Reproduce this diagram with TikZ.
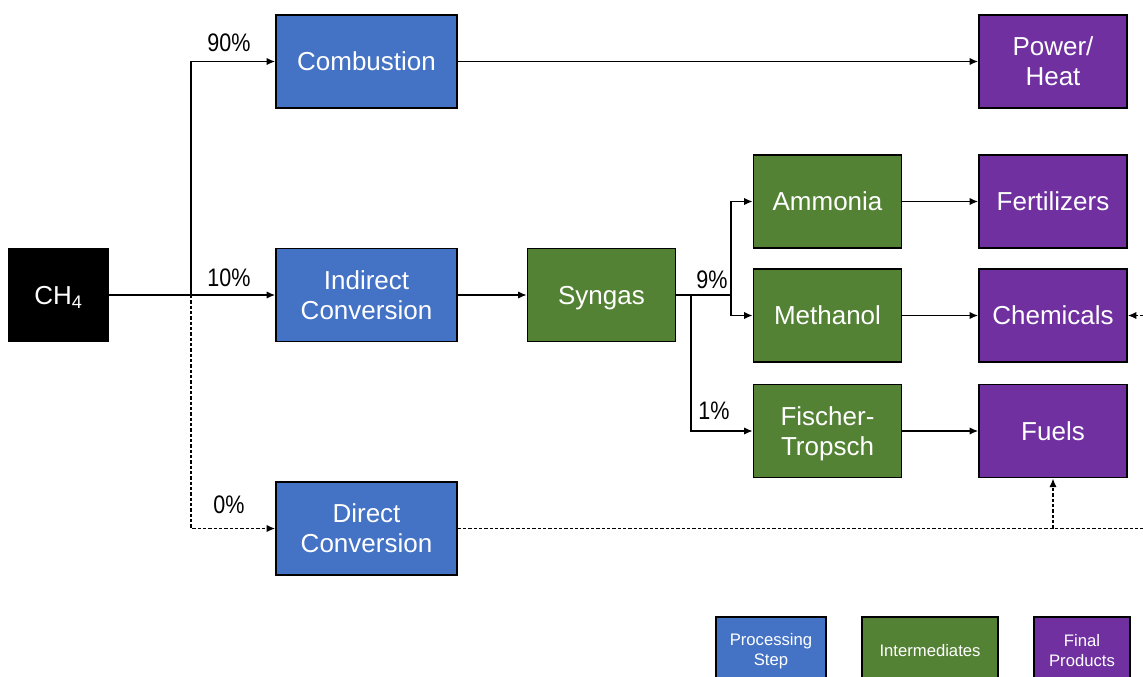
\documentclass[tikz,border=0pt]{standalone}
\usepackage{fontspec}
\setmainfont{Liberation Sans}
\newfontfamily\narrowfont[FakeStretch=0.85]{Liberation Sans}
\usetikzlibrary{arrows.meta}

\definecolor{stepblue}{HTML}{4472C4}
\definecolor{midgreen}{HTML}{548235}
\definecolor{prodpurple}{HTML}{7030A0}

\tikzset{every picture/.style={line width=0.75pt}}
\tikzset{
	box/.style={draw=black, line width=1.1pt, text=white, align=center, inner sep=0pt, minimum height=70pt, text depth=0pt, font=\fontsize{19.5}{22.5}\selectfont},
	procbox/.style={box, fill=stepblue, minimum width=135.75pt},
	midbox/.style={box, fill=midgreen, minimum width=111pt},
	prodbox/.style={box, fill=prodpurple, minimum width=111pt},
	keybox/.style={draw=black, line width=1.1pt, text=white, align=center, inner sep=0pt, minimum height=51pt, font=\fontsize{12.5}{15}\selectfont},
	flow/.style={line width=1.2pt, -{Latex[length=6.5pt,width=5.5pt]}},
	dashflow/.style={flow, dash pattern={on 2.5pt off 1.5pt}},
	share/.style={font=\narrowfont\fontsize{19}{21}\selectfont, inner sep=0.75pt}
}

\begin{document}
\begin{tikzpicture}[x=0.75pt,y=0.75pt,yscale=-1,xscale=1]
	\useasboundingbox (0,0) rectangle (1143,676);
	
	% Boxes
	\node [box, fill=black, minimum width=74pt] (ch4) at (58.5,295) {CH\textsubscript{4}};
	\node [procbox] (comb) at (366.5,61.5) {Combustion};
	\node [procbox] (indirect) at (366.5,295) {Indirect\\Conversion};
	\node [procbox] (direct) at (366.5,528.5) {Direct\\Conversion};
	\node [midbox] (syngas) at (601.5,295) {Syngas};
	\node [midbox] (ammonia) at (827.5,201.5) {Ammonia};
	\node [midbox] (methanol) at (827.5,315.5) {Methanol};
	\node [midbox] (ft) at (827.5,431) {Fischer-\\Tropsch};
	\node [prodbox] (power) at (1053,61.5) {Power/\\Heat};
	\node [prodbox] (fert) at (1053,201.5) {Fertilizers};
	\node [prodbox] (chem) at (1053,315.5) {Chemicals};
	\node [prodbox] (fuels) at (1053,431) {Fuels};
	
	% Legend
	\node [keybox, fill=stepblue, minimum width=82.5pt] (keystep) at (771,651) {Processing\\Step};
	\node [keybox, fill=midgreen, minimum width=102pt] (keymid) at (930,651) {Intermediates};
	\node [keybox, fill=prodpurple, minimum width=72pt] (keyprod) at (1082,651) {Final\\Products};
	
	% Branch points
	\coordinate (split) at (191,295);
	\coordinate (ftfork) at (691,295);
	\coordinate (fork) at (731,295);
	\coordinate (edge) at (1165,528.5);
	
	% Connectors
	\draw [flow] (ch4) -- (indirect);
	\draw [flow] (split) |- (comb);
	\draw [dashflow] (split) |- (direct);
	\draw [flow] (indirect) -- (syngas);
	\draw [line width=1.2pt] (syngas) -- (fork);
	\draw [flow] (fork) |- (ammonia);
	\draw [flow] (fork) |- (methanol);
	\draw [flow] (ftfork) |- (ft);
	\draw [flow] (comb) -- (power);
	\draw [flow] (ammonia) -- (fert);
	\draw [flow] (methanol) -- (chem);
	\draw [flow] (ft) -- (fuels);
	\draw [line width=1.2pt, dash pattern={on 2.5pt off 1.5pt}] (direct) -- (edge);
	\draw [dashflow] (direct.east -| fuels) -- (fuels);
	\draw [dashflow] (edge) |- (chem);
	
	% Shares
	\node [share] (p90) at (229,43) {90\%};
	\node [share] (p10) at (229,278) {10\%};
	\node [share] (p0) at (229,505) {0\%};
	\node [share] (p9) at (712,280) {9\%};
	\node [share] (p1) at (714,411) {1\%};
	
\end{tikzpicture}
\end{document}
